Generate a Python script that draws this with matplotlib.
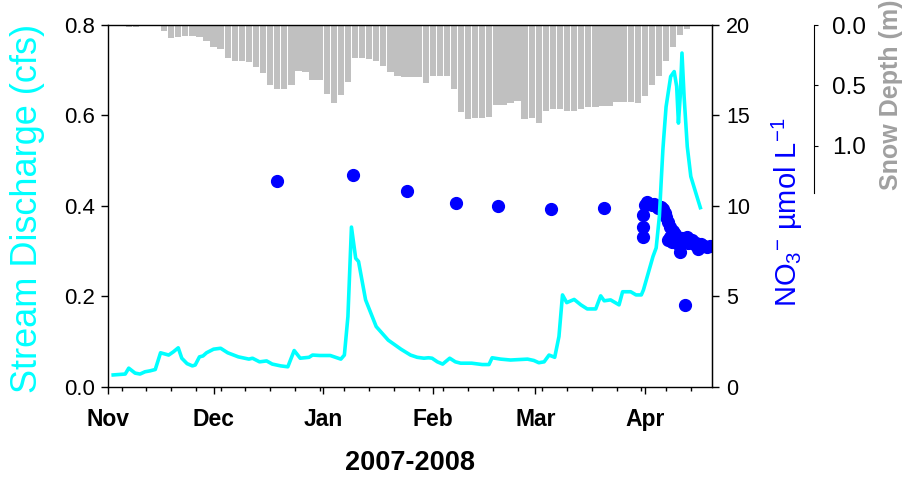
import numpy as np
import pandas as pd
import matplotlib
matplotlib.use('Agg')
import matplotlib.pyplot as plt
import matplotlib.dates as mdates
from matplotlib.ticker import FormatStrFormatter

plt.rcParams['font.family'] = ['Liberation Sans', 'DejaVu Sans']
plt.rcParams['mathtext.fontset'] = 'custom'
plt.rcParams['mathtext.rm'] = 'Liberation Sans'
plt.rcParams['mathtext.it'] = 'Liberation Sans:italic'

season_start = pd.Timestamp('2007-11-01')
season_end = pd.Timestamp('2008-04-20')

# stream discharge (cfs), x in days after Nov 1
q_day = [1.6, 5, 6, 7.8, 9.2, 10.6, 12, 13.5, 15, 17.3, 18.6, 20, 21, 22.5, 24, 24.8,
         26, 27, 28, 30, 32, 34, 37, 40, 41, 43, 45, 46.6, 49, 51, 52.8, 54.5,
         57, 58, 60, 63, 66, 67, 68, 69, 70.2, 71, 73, 76, 79.4, 83, 85.7, 87.6,
         89.5, 90.8, 91.8, 93.3, 94.8, 96.8, 98.4, 99.9, 103, 106, 107.9, 108.8, 111.2, 114,
         118.8, 120.6, 122, 123.5, 124.9, 126.5, 127.7, 128.7, 129.9, 132, 133.9, 135.7, 138.1, 139.5,
         140.5, 142.3, 144.7, 145.7, 148, 149.5, 151, 151.6, 154.3, 155.2, 156.1, 156.6, 157.1, 157.3,
         158, 159.3, 160.3, 161, 161.5, 162, 162.5, 163.1, 164, 165, 166.4, 167.7]
q_cfs = [0.026, 0.028, 0.041, 0.030, 0.028, 0.033, 0.035, 0.038, 0.075, 0.070, 0.077, 0.086, 0.063, 0.051, 0.046, 0.048,
         0.066, 0.068, 0.075, 0.083, 0.085, 0.075, 0.066, 0.061, 0.063, 0.055, 0.057, 0.050, 0.046, 0.044, 0.080, 0.063,
         0.065, 0.070, 0.069, 0.069, 0.061, 0.070, 0.155, 0.353, 0.284, 0.277, 0.192, 0.133, 0.103, 0.083, 0.070, 0.065,
         0.063, 0.064, 0.063, 0.055, 0.050, 0.063, 0.055, 0.052, 0.052, 0.049, 0.049, 0.064, 0.061, 0.059,
         0.061, 0.058, 0.053, 0.055, 0.070, 0.065, 0.111, 0.203, 0.186, 0.193, 0.181, 0.172, 0.172, 0.201,
         0.190, 0.192, 0.181, 0.210, 0.210, 0.203, 0.203, 0.214, 0.288, 0.307, 0.376, 0.451, 0.524, 0.546,
         0.619, 0.686, 0.697, 0.664, 0.583, 0.642, 0.738, 0.642, 0.531, 0.465, 0.429, 0.396]

# nitrate grab samples (umol/L)
no3_day = [47.9, 69.4, 84.7, 98.6, 110.4, 125.4, 140.4,
           151.4, 151.4, 151.6, 152.0, 152.6, 153.3, 153.9, 154.6,
           155.2, 155.8, 156.5, 157.2, 157.7, 158.1, 158.6, 159.1,
           159.1, 158.5, 159.6, 160.0, 160.5, 161.0, 161.4, 161.9,
           162.4, 162.9, 163.3, 163.8, 164.3, 164.8, 165.2, 165.9,
           166.6, 167.1, 168.0, 168.7, 169.5, 170.3]
no3_umol = [11.37, 11.71, 10.82, 10.16, 9.99, 9.83, 9.88,
            8.3, 8.85, 9.5, 10.05, 10.2, 10.1, 10.05, 10.1,
            10.0, 9.9, 9.95, 9.85, 9.6, 9.4, 9.1, 8.85,
            8.3, 8.1, 8.0, 8.6, 8.45, 8.2, 7.9, 7.47,
            8.2, 8.0, 4.5, 8.3, 7.95, 8.1, 8.1, 7.9,
            7.95, 7.6, 7.9, 7.8, 7.74, 7.8]

# snow depth (m), every other day
snow_day = np.arange(6, 166, 2)
snow_m = [0.02, 0.02, 0.0, 0.0, 0.0, 0.05, 0.11, 0.10, 0.095, 0.095,
          0.10, 0.13, 0.185, 0.20, 0.27, 0.30, 0.30, 0.31, 0.35, 0.40,
          0.50, 0.53, 0.53, 0.50, 0.38, 0.39, 0.46, 0.46, 0.57, 0.65,
          0.58, 0.47, 0.27, 0.27, 0.28, 0.30, 0.34, 0.39, 0.42, 0.43,
          0.43, 0.43, 0.48, 0.42, 0.42, 0.42, 0.53, 0.72, 0.78, 0.77,
          0.77, 0.76, 0.66, 0.66, 0.65, 0.63, 0.78, 0.77, 0.81, 0.71,
          0.70, 0.70, 0.71, 0.71, 0.70, 0.68, 0.68, 0.67, 0.67, 0.64,
          0.64, 0.64, 0.65, 0.59, 0.50, 0.42, 0.30, 0.18, 0.08, 0.03]

months = ['Nov', 'Dec', 'Jan', 'Feb', 'Mar', 'Apr']
month_starts = pd.date_range('2007-11-01', '2008-04-01', freq='MS')


def to_dates(days):
    return season_start + pd.to_timedelta(np.asarray(days, dtype=float), unit='D')


fig = plt.figure(figsize=(9.09, 4.79), dpi=100)
ax = fig.add_axes([0.1183, 0.1927, 0.665, 0.7551])
ax_snow = ax.twinx()
ax_no3 = ax.twinx()

# snow hangs from the top, then nitrate, discharge on top
ax_snow.set_zorder(1)
ax_no3.set_zorder(2)
ax.set_zorder(3)
ax.patch.set_visible(False)
ax_no3.patch.set_visible(False)

ax_snow.bar(to_dates(snow_day), snow_m, width=1.8, color='#c0c0c0', linewidth=0)
ax_no3.plot(to_dates(no3_day), no3_umol, 'o', color='#0000ff', markersize=8.5)
ax.plot(to_dates(q_day), q_cfs, color='#00ffff', linewidth=2.6, solid_joinstyle='round')

# discharge axis
ax.set_xlim(season_start, season_end)
ax.set_ylim(0, 0.8)
ax.set_yticks([0.0, 0.2, 0.4, 0.6, 0.8])
ax.yaxis.set_major_formatter(FormatStrFormatter('%.1f'))
ax.tick_params(axis='y', direction='out', length=5, width=1, labelsize=16, pad=4)
ax.set_xticks(month_starts)
ax.set_xticklabels(months, fontweight='bold', fontsize=16.5)
ax.xaxis.set_minor_locator(mdates.WeekdayLocator(byweekday=mdates.MO))
ax.tick_params(axis='x', which='major', direction='out', length=5, width=1, pad=10)
ax.tick_params(axis='x', which='minor', direction='out', length=3, width=1)
for s in ax.spines.values():
    s.set_linewidth(1.0)

# nitrate axis
ax_no3.set_ylim(0, 20)
ax_no3.set_yticks([0, 5, 10, 15, 20])
ax_no3.tick_params(axis='y', direction='out', length=5, width=1, labelsize=15.5, pad=5)
for side in ['left', 'top', 'bottom']:
    ax_no3.spines[side].set_visible(False)

# snow depth axis, offset to the right and only on the upper part
ax_snow.set_ylim(3.0, 0)
ax_snow.set_yticks([0.0, 0.5, 1.0])
ax_snow.yaxis.set_major_formatter(FormatStrFormatter('%.1f'))
ax_snow.spines['right'].set_position(('axes', 1.169))
ax_snow.spines['right'].set_bounds(0, 1.39)
ax_snow.spines['right'].set_linewidth(0.8)
for side in ['left', 'top', 'bottom']:
    ax_snow.spines[side].set_visible(False)
ax_snow.tick_params(axis='y', direction='out', length=3, width=0.8, labelsize=17.5, pad=10)

fig.text(28 / 909, 1 - 208 / 479, 'Stream Discharge (cfs)', rotation=90,
         ha='center', va='center', color='#00ffff', fontsize=26)
fig.text(787 / 909, 1 - 212 / 479, r'NO$_3$$^{-}$ µmol L$^{-1}$', rotation=90,
         ha='center', va='center', color='#0000ff', fontsize=21)
fig.text(891 / 909, 1 - 95 / 479, 'Snow Depth (m)', rotation=90,
         ha='center', va='center', color='#a0a0a0', fontsize=18, fontweight='bold')
fig.text(410 / 909, 1 - 463 / 479, '2007-2008', ha='center', va='center',
         fontsize=19.5, fontweight='bold')

fig.savefig('out.png', dpi=100)
